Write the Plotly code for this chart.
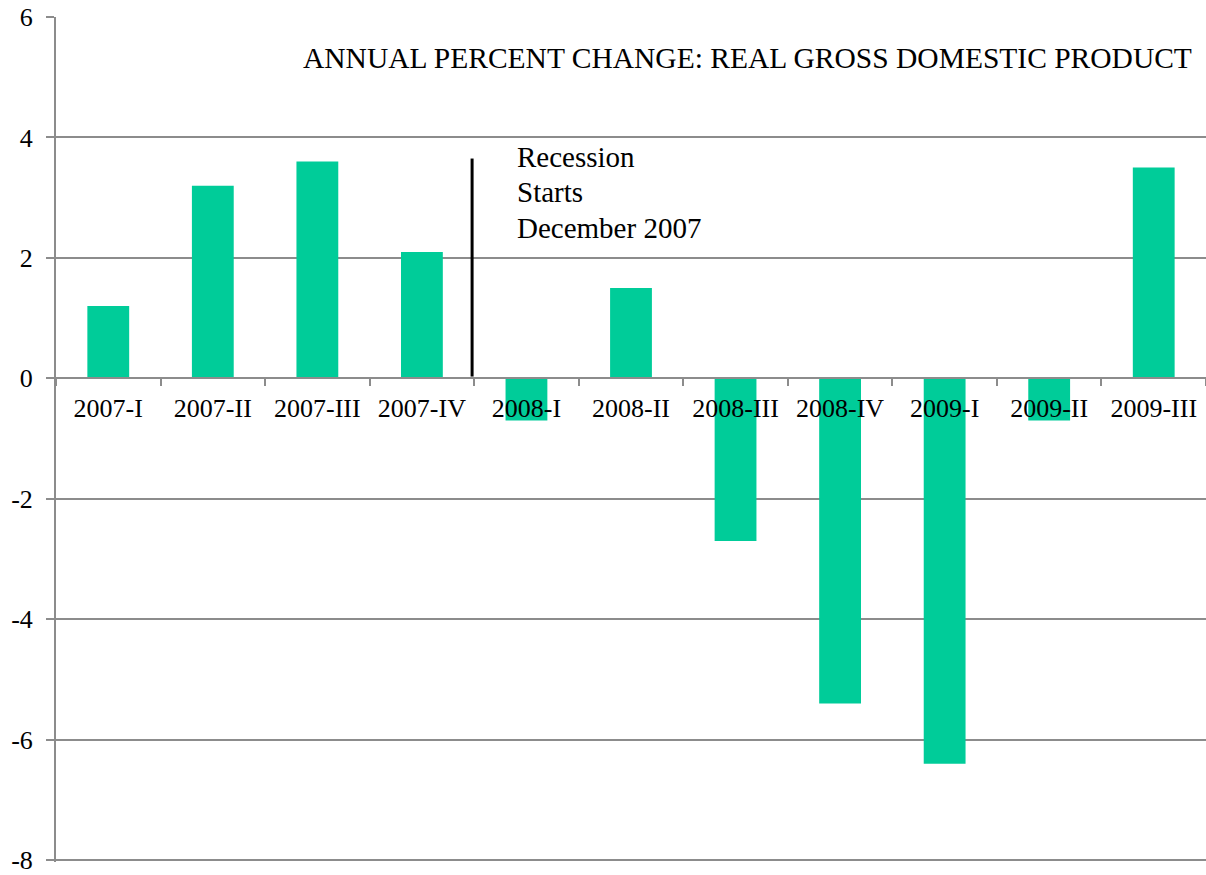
import plotly.graph_objects as go

# Quarterly real GDP growth, annualised percent change
quarters = ["2007-I", "2007-II", "2007-III", "2007-IV", "2008-I", "2008-II",
            "2008-III", "2008-IV", "2009-I", "2009-II", "2009-III"]
gdp_change = [1.2, 3.2, 3.6, 2.1, -0.7, 1.5, -2.7, -5.4, -6.4, -0.7, 3.5]
y_ticks = [6, 4, 2, 0, -2, -4, -6, -8]

# small pad below -8 so the bottom gridline is kept
Y_MIN, Y_MAX = -8.03, 6.0
BAR_COLOR = "rgb(0,204,153)"
GRID_COLOR = "#8c8c8c"
FONT = "Liberation Serif"

fig = go.Figure()
fig.add_trace(go.Bar(
    x=quarters, y=gdp_change,
    marker=dict(color=BAR_COLOR, line=dict(width=0)),
    showlegend=False, hoverinfo="x+y",
))

# Marker for the start of the recession, between 2007-IV and 2008-I
fig.add_shape(type="line", xref="x", yref="y",
              x0=3.48, x1=3.48, y0=0.03, y1=3.65,
              line=dict(color="black", width=3))

note_lines = ["Recession", "Starts", "December 2007"]
note_y = [3.68, 3.09, 2.505]
for txt, yy in zip(note_lines, note_y):
    fig.add_annotation(text=txt, xref="paper", yref="y",
                       x=(515 - 56) / 1150, y=yy,
                       xanchor="left", yanchor="middle", align="left",
                       showarrow=False,
                       font=dict(family=FONT, size=29, color="black"))

fig.add_annotation(text="ANNUAL PERCENT CHANGE: REAL GROSS DOMESTIC PRODUCT",
                   xref="paper", yref="y", x=(301 - 56) / 1150, y=5.32,
                   xanchor="left", yanchor="middle",
                   showarrow=False, font=dict(family=FONT, size=29.5, color="black"))

fig.update_layout(
    width=1206, height=875,
    margin=dict(l=56, r=0, t=17, b=11),
    paper_bgcolor="white", plot_bgcolor="white",
    bargap=0.6,
    font=dict(family=FONT, size=26, color="black"),
    xaxis=dict(
        type="category",
        anchor="free",
        position=(0 - Y_MIN) / (Y_MAX - Y_MIN),
        showgrid=False,
        showline=True, linecolor=GRID_COLOR, linewidth=2,
        ticks="outside", tickson="boundaries", ticklen=7,
        tickcolor=GRID_COLOR, tickwidth=2,
        ticklabelstandoff=6,
        tickfont=dict(family=FONT, size=26, color="black"),
    ),
    yaxis=dict(
        range=[Y_MIN, Y_MAX],
        tickvals=y_ticks,
        ticktext=[str(v) for v in y_ticks],
        showgrid=True, gridcolor=GRID_COLOR, gridwidth=2,
        zeroline=False,
        showline=True, linecolor=GRID_COLOR, linewidth=2,
        ticks="outside", ticklen=8, tickcolor=GRID_COLOR, tickwidth=2,
        ticklabelstandoff=8,
        ticklabeloverflow="allow",
        tickfont=dict(family=FONT, size=26, color="black"),
    ),
)

fig.write_html("out.html")
